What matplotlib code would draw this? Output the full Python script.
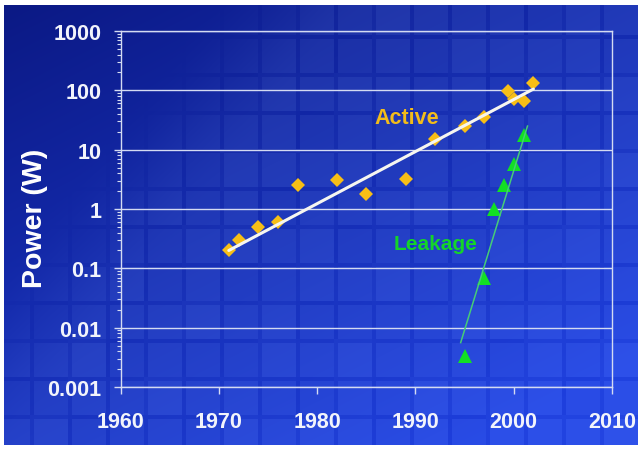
import numpy as np
import matplotlib
matplotlib.use("Agg")
import matplotlib.pyplot as plt
from matplotlib.ticker import FixedLocator, FixedFormatter, LogLocator, NullFormatter

# ---- data -------------------------------------------------------------
active_years = [1971, 1972, 1974, 1976, 1978, 1982, 1985, 1989, 1992, 1995, 1997, 1999.4, 2000, 2001, 2002]
active_power = [0.2, 0.3, 0.5, 0.6, 2.5, 3.1, 1.8, 3.2, 15, 25, 36, 98, 71, 65, 135]
active_trend_years = [1971, 2002]
active_trend_power = [0.2, 105]

leakage_years = [1995, 1997, 1998, 1999, 2000, 2001]
leakage_power = [0.0033, 0.07, 1.0, 2.5, 5.7, 18]
leakage_trend_years = [1994.6, 2001.4]
leakage_trend_power = [0.0056, 25]

x_ticks = [1960, 1970, 1980, 1990, 2000, 2010]
x_tick_labels = ["1960", "1970", "1980", "1990", "2000", "2010"]
y_ticks = [0.001, 0.01, 0.1, 1, 10, 100, 1000]
y_tick_labels = ["0.001", "0.01", "0.1", "1", "10", "100", "1000"]

FONT = ["Liberation Sans", "DejaVu Sans"]
plt.rcParams["font.family"] = FONT

W_PX, H_PX = 640, 452
fig = plt.figure(figsize=(W_PX / 100, H_PX / 100), dpi=100, facecolor="white")

# ---- blue tiled backdrop ------------------------------------------------
bx0, by0, bx1, by1 = 4, 6, 638, 446          # pixel box of the backdrop
bw, bh = bx1 - bx0, by1 - by0
yy, xx = np.mgrid[0:bh, 0:bw].astype(float)
u, v = xx / bw, yy / bh
t = np.clip(0.62 * v + 0.45 * u + 0.05, 0, 1)
dark = np.array([0.04, 0.09, 0.50])
bright = np.array([0.12, 0.25, 0.87])
img = dark + (bright - dark) * t[..., None]

# soft diagonal boundary: tiles and haze only to the right / below it
m = np.clip((u + 0.55 * v - 0.32) / 0.25, 0, 1)
m = m * m * (3 - 2 * m)
P = 38.0
gx, gy = (xx + 12) % P, (yy + 8) % P
ix, iy = (xx + 12) // P, (yy + 8) // P
edge = ((gx < 4) | (gy < 4)).astype(float)
tile_var = 0.5 + 0.5 * np.sin(1.7 * ix + 2.3 * iy) * np.cos(0.9 * ix - 1.3 * iy)
delta = (0.05 + 0.03 * tile_var - 0.055 * edge) * m
img = img + delta[..., None] * np.array([0.8, 0.9, 0.6])
img = np.clip(img, 0, 1)

bg = fig.add_axes([bx0 / W_PX, 1 - by1 / H_PX, bw / W_PX, bh / H_PX], zorder=0)
bg.imshow(img, aspect="auto", interpolation="bilinear")
bg.set_axis_off()

# ---- plot -------------------------------------------------------------
ax_l, ax_r, ax_t, ax_b = 120.7, 612, 32, 388
ax = fig.add_axes([ax_l / W_PX, 1 - ax_b / H_PX, (ax_r - ax_l) / W_PX, (ax_b - ax_t) / H_PX], zorder=1)
ax.set_facecolor("none")
ax.set_yscale("log")
ax.set_xlim(1960, 2010)
ax.set_ylim(0.001, 1000)

line_col = "#d4dbf2"
for s in ax.spines.values():
    s.set_color(line_col)
    s.set_linewidth(1.0)

ax.yaxis.set_major_locator(FixedLocator(y_ticks))
ax.yaxis.set_major_formatter(FixedFormatter(y_tick_labels))
ax.yaxis.set_minor_locator(LogLocator(base=10, subs=np.arange(2, 10), numticks=20))
ax.yaxis.set_minor_formatter(NullFormatter())
ax.xaxis.set_major_locator(FixedLocator(x_ticks))
ax.xaxis.set_major_formatter(FixedFormatter(x_tick_labels))

ax.tick_params(axis="both", which="major", direction="out", length=5, width=1.0,
               color=line_col, labelcolor="#f2f4fb", labelsize=15.5)
ax.tick_params(axis="y", which="minor", direction="out", length=3, width=0.8, color=line_col)
ax.tick_params(axis="x", which="major", pad=12)
ax.tick_params(axis="y", which="major", pad=9)
for lab in ax.get_xticklabels() + ax.get_yticklabels():
    lab.set_fontweight("bold")

ax.grid(axis="y", which="major", color=line_col, linewidth=1.0)
ax.set_axisbelow(True)

ax.set_ylabel("Power (W)", color="white", fontsize=20.5, fontweight="bold")
ax.yaxis.set_label_coords(-0.148, 0.4775)

# active power
ax.plot(active_years, active_power, linestyle="none", marker="D", markersize=7.4,
        color="#f7be16", markeredgewidth=0, zorder=3)
ax.plot(active_trend_years, active_trend_power, color="#f6f6f0", linewidth=2.2,
        solid_capstyle="round", zorder=4)

# leakage power
ax.plot(leakage_years, leakage_power, linestyle="none", marker="^", markersize=10.5,
        color="#12e024", markeredgewidth=0, zorder=3)
ax.plot(leakage_trend_years, leakage_trend_power, color="#46cc78", linewidth=1.1, zorder=4)

ax.text(1989.1, 35.5, "Active", color="#f2bc1a", fontsize=15.5, fontweight="bold",
        ha="center", va="center", zorder=5)
ax.text(1992.0, 0.266, "Leakage", color="#14d42a", fontsize=15, fontweight="bold",
        ha="center", va="center", zorder=5)

fig.savefig("out.png", dpi=100, facecolor="white")
